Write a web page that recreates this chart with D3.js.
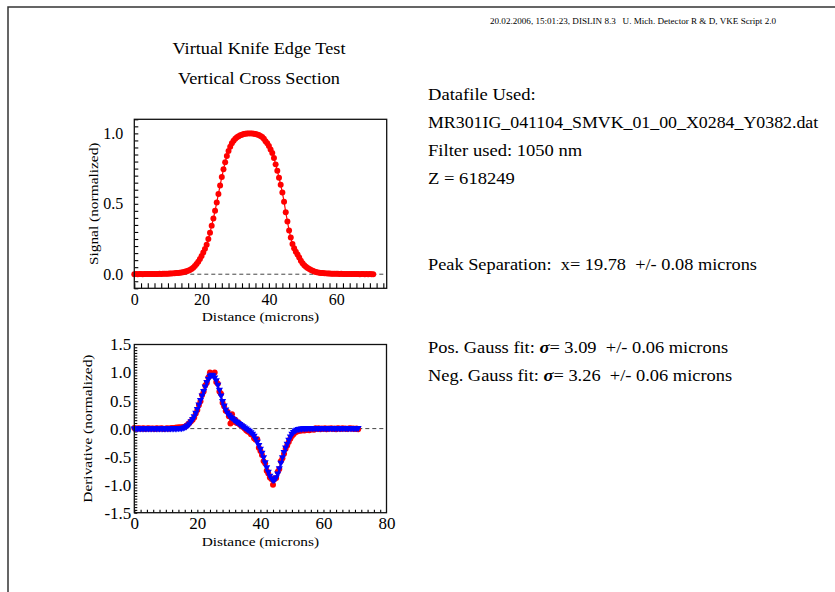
<!DOCTYPE html>
<html>
<head>
<meta charset="utf-8">
<script src="https://cdn.jsdelivr.net/npm/d3@7"></script>
<style>
  html, body { margin: 0; padding: 0; background: #fff; }
  svg text { font-family: "Liberation Serif", "Times New Roman", serif; fill: #000; white-space: pre; }
</style>
</head>
<body>
<svg id="chart" width="835" height="592"></svg>
<script>
// Sample positions along the scan (microns)
const distance = [
  0,0.5,1,1.5,2,2.5,3,3.5,4,4.5,5,5.5,6,6.5,7,7.5,8,8.5,9,9.5,
  10,10.5,11,11.5,12,12.5,13,13.5,14,14.5,15,15.5,16,16.5,17,17.5,18,18.5,19,19.5,
  20,20.5,21,21.5,22,22.5,23,23.5,24,24.5,25,25.5,26,26.5,27,27.5,28,28.5,29,29.5,
  30,30.5,31,31.5,32,32.5,33,33.5,34,34.5,35,35.5,36,36.5,37,37.5,38,38.5,39,39.5,
  40,40.5,41,41.5,42,42.5,43,43.5,44,44.5,45,45.5,46,46.5,47,47.5,48,48.5,49,49.5,
  50,50.5,51,51.5,52,52.5,53,53.5,54,54.5,55,55.5,56,56.5,57,57.5,58,58.5,59,59.5,
  60,60.5,61,61.5,62,62.5,63,63.5,64,64.5,65,65.5,66,66.5,67,67.5,68,68.5,69,69.5,
  70,70.5,71
];

// Normalized signal
const signal = [
  0.000,0.001,0.000,0.001,0.001,0.000,0.001,0.002,0.001,0.001,
  0.002,0.002,0.001,0.002,0.002,0.003,0.002,0.003,0.003,0.004,
  0.004,0.005,0.005,0.006,0.007,0.008,0.009,0.010,0.012,0.014,
  0.017,0.021,0.025,0.030,0.037,0.046,0.058,0.072,0.089,0.108,
  0.130,0.155,0.180,0.210,0.250,0.295,0.345,0.395,0.450,0.510,
  0.570,0.630,0.690,0.745,0.795,0.840,0.875,0.905,0.930,0.948,
  0.962,0.972,0.980,0.986,0.991,0.995,0.997,0.999,1.000,1.000,
  1.000,0.998,0.995,0.992,0.988,0.982,0.975,0.962,0.945,0.930,
  0.910,0.885,0.860,0.825,0.780,0.735,0.685,0.635,0.580,0.515,
  0.440,0.375,0.310,0.260,0.215,0.185,0.160,0.140,0.118,0.095,
  0.078,0.064,0.053,0.044,0.037,0.030,0.025,0.020,0.016,0.013,
  0.011,0.009,0.008,0.007,0.006,0.005,0.005,0.004,0.004,0.003,
  0.003,0.003,0.002,0.003,0.002,0.002,0.002,0.001,0.002,0.001,
  0.001,0.002,0.001,0.001,0.000,0.001,0.001,0.000,0.001,0.000,
  0.001,0.000,0.000
];

// Normalized derivative, measured
const derivRaw = [
  0.010,-0.005,0.000,0.008,-0.004,0.003,0.006,-0.008,0.002,0.007,
  -0.003,0.004,0.000,-0.006,0.005,0.002,-0.004,0.006,0.001,-0.007,
  0.004,0.008,-0.002,0.005,0.012,0.006,0.015,0.020,0.018,0.025,
  0.022,0.030,0.035,0.050,0.075,0.100,0.130,0.160,0.200,0.270,
  0.330,0.420,0.490,0.600,0.660,0.770,0.820,0.910,1.000,0.950,
  0.970,1.000,0.830,0.800,0.660,0.620,0.460,0.400,0.320,0.300,
  0.220,0.090,0.255,0.120,0.160,0.100,0.110,0.070,0.050,0.030,
  0.000,-0.030,-0.050,-0.060,-0.100,-0.110,-0.170,-0.200,-0.190,-0.340,
  -0.400,-0.470,-0.580,-0.620,-0.750,-0.800,-0.870,-0.900,-1.000,-0.900,
  -0.880,-0.770,-0.720,-0.580,-0.530,-0.450,-0.360,-0.300,-0.240,-0.180,
  -0.130,-0.100,-0.070,-0.055,-0.045,-0.040,-0.035,-0.030,-0.035,-0.025,
  -0.020,-0.030,-0.015,-0.010,-0.020,0.005,-0.008,0.006,-0.010,0.004,
  -0.005,0.008,-0.012,0.003,-0.004,0.007,-0.006,0.002,-0.010,0.005,
  0.000,-0.007,0.006,-0.003,0.004,-0.008,0.002,0.005,-0.004,0.003,
  -0.006,0.002,-0.010
];

// Normalized derivative, smoothed
const derivSmooth = [
  0.002,0.002,0.002,0.002,0.002,0.002,0.002,0.002,0.002,0.002,
  0.002,0.002,0.002,0.002,0.002,0.002,0.002,0.002,0.002,0.002,
  0.002,0.002,0.002,0.003,0.003,0.004,0.005,0.006,0.007,0.008,
  0.010,0.015,0.025,0.040,0.060,0.090,0.130,0.170,0.220,0.280,
  0.350,0.430,0.510,0.590,0.670,0.750,0.830,0.890,0.940,0.960,
  0.950,0.910,0.860,0.780,0.690,0.590,0.490,0.410,0.340,0.285,
  0.245,0.215,0.190,0.165,0.140,0.120,0.100,0.080,0.060,0.040,
  0.020,0.000,-0.020,-0.040,-0.065,-0.095,-0.130,-0.180,-0.235,-0.295,
  -0.360,-0.430,-0.510,-0.600,-0.690,-0.770,-0.840,-0.890,-0.920,-0.910,
  -0.870,-0.800,-0.710,-0.610,-0.510,-0.420,-0.340,-0.270,-0.200,-0.140,
  -0.095,-0.060,-0.035,-0.020,-0.010,-0.004,0.000,0.003,0.005,0.006,
  0.007,0.008,0.008,0.009,0.009,0.010,0.010,0.010,0.010,0.010,
  0.010,0.010,0.010,0.010,0.010,0.010,0.010,0.010,0.010,0.010,
  0.010,0.010,0.010,0.010,0.010,0.010,0.010,0.010,0.010,0.010,
  0.010,0.010,0.010
];

// Axis tick values
const signalXTicks = [0, 20, 40, 60];
const signalYTicks = [0.0, 0.5, 1.0];
const derivXTicks = [0, 20, 40, 60, 80];
const derivYTicks = [-1.5, -1.0, -0.5, 0.0, 0.5, 1.0, 1.5];

// Text blocks
const headerText = "20.02.2006, 15:01:23, DISLIN 8.3   U. Mich. Detector R & D, VKE Script 2.0";
const titleLines = ["Virtual Knife Edge Test", "Vertical Cross Section"];
const infoLines = [
  { text: "Datafile Used:", y: 100 },
  { text: "MR301IG_041104_SMVK_01_00_X0284_Y0382.dat", y: 128, stretch: 1.095 },
  { text: "Filter used: 1050 nm", y: 156 },
  { text: "Z = 618249", y: 184 },
  { text: "Peak Separation:  x= 19.78  +/- 0.08 microns", y: 270, stretch: 1.125 }
];
const fitLines = [
  { pre: "Pos. Gauss fit: ", val: "= 3.09  +/- 0.06 microns", y: 353 },
  { pre: "Neg. Gauss fit: ", val: "= 3.26  +/- 0.06 microns", y: 381 }
];

// The page font runs wide; stretch serif text horizontally
const WIDE = 1.14;

const svg = d3.select("#chart");

// Page frame
svg.append("path")
  .attr("d", "M8,592 L8,7 L835,7")
  .attr("fill", "none").attr("stroke", "#333").attr("stroke-width", 1.5);

svg.append("text")
  .attr("x", 776).attr("y", 24)
  .attr("text-anchor", "end")
  .style("font-size", "9.1px")
  .text(headerText);

function wideText(x, y, size, anchor, stretch) {
  return svg.append("text")
    .attr("transform", `translate(${x},${y}) scale(${stretch || WIDE},1)`)
    .attr("text-anchor", anchor || "start")
    .style("font-size", size);
}

titleLines.forEach((t, i) => {
  wideText(259, 54 + i * 30, "16px", "middle").text(t);
});

infoLines.forEach(d => {
  wideText(428, d.y, "16.3px", "start", d.stretch).text(d.text);
});

fitLines.forEach(d => {
  const t = wideText(428, d.y, "16.3px", "start", 1.13);
  t.append("tspan").text(d.pre);
  t.append("tspan").style("font-style", "italic").style("font-weight", "bold").text("\u03c3");
  t.append("tspan").text(d.val);
});

function drawPanel(cfg) {
  const { x, y } = cfg;
  const g = svg.append("g");
  const [x0, x1] = x.range();
  const [y0, y1] = y.range();

  // Minor ticks along the bottom edge, pointing inward
  g.append("g")
    .attr("transform", `translate(0,${y0})`)
    .call(d3.axisTop(x).tickValues(cfg.xMinor).tickSize(cfg.xTickLen).tickFormat(""))
    .call(a => a.select(".domain").remove())
    .call(a => a.selectAll("line").attr("stroke", "#000").attr("stroke-width", 1.1));

  // Minor ticks along the left edge, pointing inward
  g.append("g")
    .attr("transform", `translate(${x0},0)`)
    .call(d3.axisRight(y).tickValues(cfg.yMinor).tickSize(cfg.yTickLen).tickFormat(""))
    .call(a => a.select(".domain").remove())
    .call(a => a.selectAll("line").attr("stroke", "#000").attr("stroke-width", 1.1));

  // Tick labels
  g.append("g")
    .attr("transform", `translate(0,${y0})`)
    .call(d3.axisBottom(x).tickValues(cfg.xTicks).tickSize(0).tickPadding(cfg.xPad).tickFormat(d3.format("d")))
    .call(a => a.select(".domain").remove())
    .call(a => a.selectAll("text").style("font-size", cfg.labelSize)
      .style("font-family", "'Liberation Serif', serif"));

  g.append("g")
    .attr("transform", `translate(${x0},0)`)
    .call(d3.axisLeft(y).tickValues(cfg.yTicks).tickSize(0).tickPadding(cfg.yPad).tickFormat(d3.format(".1f")))
    .call(a => a.select(".domain").remove())
    .call(a => a.selectAll("text").style("font-size", cfg.labelSize)
      .style("font-family", "'Liberation Serif', serif")
      .text(d => d3.format(".1f")(d).replace("\u2212", "-")));

  // Zero reference line
  g.append("line")
    .attr("x1", x0).attr("x2", x1)
    .attr("y1", y(0)).attr("y2", y(0))
    .attr("stroke", "#444").attr("stroke-width", 1).attr("stroke-dasharray", "4,3");

  // Data series
  cfg.series.forEach(s => {
    const pts = distance.map((d, i) => [d, s.values[i]]);
    g.append("path")
      .datum(pts)
      .attr("fill", "none").attr("stroke", s.color).attr("stroke-width", s.lineWidth)
      .attr("d", d3.line().x(d => x(d[0])).y(d => y(d[1])));
    g.append("g").selectAll("path")
      .data(pts).join("path")
      .attr("d", d3.symbol().type(s.symbol).size(s.size))
      .attr("fill", s.color)
      .attr("transform", d => `translate(${x(d[0])},${y(d[1])})${s.rotate ? " rotate(180)" : ""}`);
  });

  // Plot frame
  g.append("rect")
    .attr("x", x0).attr("y", y1)
    .attr("width", x1 - x0).attr("height", y0 - y1)
    .attr("fill", "none").attr("stroke", "#111").attr("stroke-width", 1.3);

  // Axis titles
  g.append("text")
    .attr("transform", `translate(${(x0 + x1) / 2},${cfg.xTitleY}) scale(${WIDE},1)`)
    .attr("text-anchor", "middle")
    .style("font-size", "13.5px")
    .text("Distance (microns)");
  g.append("text")
    .attr("transform", `translate(${cfg.yTitleX},${(y0 + y1) / 2}) rotate(-90) scale(${WIDE},1)`)
    .attr("text-anchor", "middle")
    .style("font-size", "13.5px")
    .text(cfg.yTitle);
}

// Upper panel: signal profile
drawPanel({
  x: d3.scaleLinear().domain([0, 75]).range([134.3, 386.7]),
  y: d3.scaleLinear().domain([-0.1, 1.1]).range([288.3, 119.3]),
  xTicks: signalXTicks,
  yTicks: signalYTicks,
  xMinor: d3.range(0, 75, 2),
  yMinor: d3.range(-0.1, 1.1, 0.05),
  xTickLen: 5, yTickLen: 4,
  xPad: 5, yPad: 11,
  labelSize: "16px",
  xTitleY: 321, yTitleX: 98,
  yTitle: "Signal (normalized)",
  series: [
    { values: signal, color: "#ff0000", symbol: d3.symbolCircle, size: 28, lineWidth: 1.2 }
  ]
});

// Lower panel: derivative of the signal
drawPanel({
  x: d3.scaleLinear().domain([0, 80]).range([134.3, 386.5]),
  y: d3.scaleLinear().domain([-1.5, 1.5]).range([512.7, 344.5]),
  xTicks: derivXTicks,
  yTicks: derivYTicks,
  xMinor: d3.range(0, 80, 2),
  yMinor: d3.range(-1.5, 1.5, 0.05),
  xTickLen: 3, yTickLen: 3,
  xPad: 4, yPad: 3,
  labelSize: "17px",
  xTitleY: 546, yTitleX: 92,
  yTitle: "Derivative (normalized)",
  series: [
    { values: derivRaw, color: "#ff0000", symbol: d3.symbolCircle, size: 28, lineWidth: 1.2 },
    { values: derivSmooth, color: "#0000ff", symbol: d3.symbolTriangle, size: 22, lineWidth: 1.3, rotate: true }
  ]
});
</script>
</body>
</html>
